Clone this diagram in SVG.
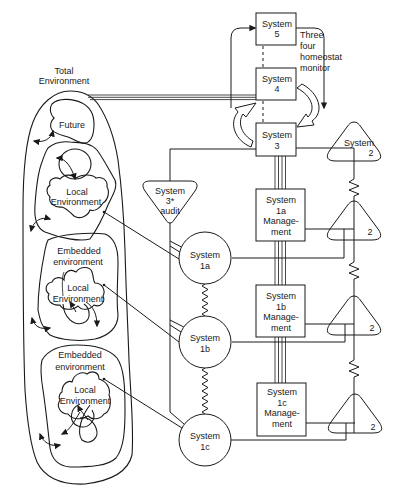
<svg xmlns="http://www.w3.org/2000/svg" width="412" height="488" viewBox="0 0 412 488">
<defs>
<style>
.ln{fill:none;stroke:#1a1a1a;stroke-width:1}
.th{fill:none;stroke:#1a1a1a;stroke-width:0.8}
.sh{fill:#fff;stroke:#1a1a1a;stroke-width:1}
.env{fill:none;stroke:#1a1a1a;stroke-width:1.1}
.dash{fill:none;stroke:#1a1a1a;stroke-width:1;stroke-dasharray:3 3}
text{font-family:"Liberation Sans",Arial,sans-serif;font-size:9px;fill:#1a1a1a;text-anchor:middle}
.lft{text-anchor:start}
.arr{marker-end:url(#ah)}
.arr2{marker-start:url(#ah);marker-end:url(#ah)}
</style>
<marker id="ah" viewBox="0 0 10 10" refX="8" refY="5" markerWidth="7" markerHeight="7" markerUnits="userSpaceOnUse" orient="auto-start-reverse"><path d="M0,0.5 L10,5 L0,9.5 Z" fill="#1a1a1a"/></marker>
<path id="tri" d="M0,0 C3,0 5,2 7,5 L24,28 C29,35 27,39 18,39 L-18,39 C-27,39 -29,35 -24,28 L-7,5 C-5,2 -3,0 0,0 Z"/>
</defs>
<rect width="412" height="488" fill="#fff"/>

<g id="environment">
  <path class="env" d="M70,91 C82,91 92,96 98,104 C106,116 114,135 118,160 C122,190 124,220 125,250 C126,290 128,330 129,360 C131,400 134,430 132,455 C128,472 110,481 85,484 C62,485 45,478 37,462 C30,445 27,420 25,390 C23,340 23,270 23,210 C23,170 26,140 33,122 C40,104 54,91 70,91 Z"/>
  <text x="64" y="74">Total</text>
  <text x="64" y="84">Environment</text>
  <!-- Future -->
  <path class="env" d="M52,104 C58,98 72,98 82,103 C90,107 94,114 94,124 C94,134 92,141 86,143 C80,144 74,139 68,137 C62,135 55,134 52,130 C49,126 51,121 54,118 C50,114 49,108 52,104 Z"/>
  <text x="72" y="128">Future</text>
  <path class="ln arr2" d="M53,131 C51,139 44,143 34,141"/>
  <!-- region A -->
  <path class="env" d="M48,148 C55,142 62,141 70,142 C80,143 90,142 97,150 C103,158 108,168 115,180 C118,188 112,196 108,205 C104,215 98,228 90,239 C80,242 60,238 45,232 C36,228 34,218 35,205 C36,190 38,172 42,162 C44,156 46,151 48,148 Z"/>
  <ellipse class="env" cx="75" cy="164" rx="16" ry="15"/>
  <path class="ln arr2" d="M57,158 C66,158 72,168 75,179"/>
  <path class="env" d="M50,185 C48,180 55,176 60,179 C64,174 72,174 76,178 C82,174 92,174 96,178 C102,176 108,180 107,187 C110,192 108,200 103,203 C100,208 95,212 90,210 C88,216 80,220 74,216 C70,212 66,208 62,207 C55,208 48,203 50,197 C46,193 46,188 50,185 Z"/>
  <text x="77" y="195">Local</text>
  <text x="76" y="205">Environment</text>
  <path class="ln arr2" d="M31,231 C33,222 40,216 50,219"/>
  <circle cx="104" cy="212" r="1.3" fill="#1a1a1a"/>
  <!-- region B -->
  <path class="env" d="M48,240 C60,234 90,232 105,234 C115,238 118,250 118,262 C118,280 116,300 118,315 C118,328 108,336 95,339 C80,342 60,340 50,335 C42,328 40,320 38,310 C38,290 42,265 45,250 C46,245 47,242 48,240 Z"/>
  <text x="79" y="254">Embedded</text>
  <text x="78" y="265">environment</text>
  <path class="env" d="M52,282 C55,276 62,277 64,280 C64,272 70,268 76,272 C80,266 90,266 92,272 C94,278 93,281 95,283 C102,283 106,290 103,296 C106,302 100,308 94,305 C90,310 82,311 78,306 C72,311 62,310 60,305 C52,306 46,300 49,294 C44,290 46,283 52,282 Z"/>
  <path class="th" d="M63,296 C62,286 62,276 64,272"/>
  <text x="78" y="291">Local</text>
  <text x="78" y="302">Environment</text>
  <path class="env" d="M63,304 C64,318 74,326 83,323 C92,320 90,308 84,304"/>
  <path class="ln arr" d="M86,302 C94,307 97,315 97,326"/>
  <path class="ln arr" d="M76,312 C74,308 72,305 70,302"/>
  <path class="ln arr2" d="M32,318 C34,326 40,330 50,328"/>
  <circle cx="104" cy="285" r="1.3" fill="#1a1a1a"/>
  <!-- region C -->
  <path class="env" d="M42,360 C48,350 60,345 77,345 C92,345 108,348 117,358 C124,368 125,385 125,410 C125,430 124,448 116,458 C108,466 90,467 70,467 C58,466 52,460 50,448 C48,430 46,410 43,390 C41,378 40,368 42,360 Z"/>
  <text x="80" y="358">Embedded</text>
  <text x="80" y="370">environment</text>
  <path class="env" d="M62,392 C62,384 68,380 72,382 C74,374 82,371 87,374 C92,370 99,372 99,379 C106,381 111,388 109,395 C112,402 110,412 104,414 C100,420 92,420 88,416 C82,420 72,420 68,414 C60,414 56,406 60,400 C58,397 60,393 62,392 Z"/>
  <text x="85" y="393">Local</text>
  <text x="85" y="404">Environment</text>
  <path class="env" d="M80,404 C70,408 68,422 78,426 C88,430 98,420 92,410"/>
  <path class="env" d="M90,405 C82,415 76,432 82,440 C90,446 100,438 96,428 C93,420 86,416 80,418"/>
  <path class="ln arr" d="M80,412 C74,422 70,430 62,434"/>
  <path class="ln arr" d="M88,420 C84,414 80,410 78,406"/>
  <path class="ln arr2" d="M40,434 C43,442 50,447 60,445"/>
  <circle cx="104" cy="379" r="1.3" fill="#1a1a1a"/>
</g>

<g id="connectors">
  <!-- total environment to System 4 -->
  <path class="th" d="M88,95 H256 M88,97.3 H256 M90,99.6 H256"/>
  <!-- 5 / 4 / 3 dashed -->
  <path class="dash" d="M263,46 V68 M263,101 V123"/>
  <!-- 3-4 homeostat loop arrows -->
  <path class="ln arr" d="M231,108 V38 Q231,28 241,28 H255"/>
  <path class="ln arr" d="M296,28 H314 Q324,28 324,38 V108"/>
  <!-- System 3 to 3* and to System 2 -->
  <path class="ln" d="M256,149 H170 V181"/>
  <path class="ln" d="M170,222 V412 L184,424"/>
  <path class="ln" d="M296,148 H354"/>
  <!-- System 2 vertical with zigzags -->
  <path class="ln" d="M354,148 V179 L349,182 L359,186 L349,190 L359,194 L354,196 V262 L349,265 L359,269 L349,273 L359,277 L354,279 V360 L349,363 L359,367 L349,371 L359,375 L354,377 V433"/>
  <!-- management bundles -->
  <path class="th" d="M275,156 V189 M278.5,156 V189 M282,156 V189 M285.5,156 V189"/>
  <path class="th" d="M275,241 V285 M278.5,241 V285 M282,241 V285 M285.5,241 V285"/>
  <path class="th" d="M275,337 V383 M278.5,337 V383 M282,337 V383 M285.5,337 V383"/>
  <!-- management / operations to System 2 -->
  <path class="ln" d="M305,229 H354 M232,258 H344 V229"/>
  <path class="ln" d="M305,324 H354 M232,342 H345 V324"/>
  <path class="ln" d="M306,423 H355 M231,440 H346 V423"/>
  <!-- environment to operations -->
  <path class="ln" d="M104,212 L179,259"/>
  <path class="ln" d="M104,285 L179,342"/>
  <path class="ln" d="M104,379 L182,428"/>
  <!-- audit channel pairs -->
  <path class="ln" d="M170,241 L181.4,247 M170,246 L179.7,252"/>
  <path class="ln" d="M170,320 L183.8,327 M170,325 L181,332"/>
  <!-- operations zigzags -->
  <path class="ln" d="M205,284 L202,286 L208,289.5 L202,293 L208,296.5 L202,300 L208,303.5 L202,307 L208,310.5 L202,314 L205,316"/>
  <path class="ln" d="M205,368 L202,370 L208,373.5 L202,377 L208,380.5 L202,384 L208,387.5 L202,391 L208,394.5 L202,398 L208,401.5 L202,405 L208,408.5 L202,412 L205,414"/>
</g>

<g id="homeostat-arrows">
  <path class="sh" d="M251,147 C236,141 228,124 238,112 L235,108 L256,103 L246,117 L243,114 C237,123 242,135 253,141 Z"/>
  <path class="sh" d="M297,88 L302,84 C319,93 325,112 312,121 L314,125 L297,127 L306,114 L308,117 C316,109 312,96 297,88 Z"/>
</g>

<g id="system5"><rect class="sh" x="256" y="13" width="40" height="32"/><text x="277" y="27">System</text><text x="277" y="37">5</text></g>
<g id="monitor-label"><text class="lft" x="300" y="38">Three</text><text class="lft" x="300" y="49">four</text><text class="lft" x="300" y="60">homeostat</text><text class="lft" x="300" y="71">monitor</text></g>
<g id="system4"><rect class="sh" x="256" y="68" width="40" height="32"/><text x="277" y="82">System</text><text x="277" y="92">4</text></g>
<g id="system3"><rect class="sh" x="256" y="123" width="40" height="33"/><text x="277" y="138">System</text><text x="277" y="149">3</text></g>

<g id="system3star"><path class="sh" d="M150,181 L190,181 C197,181 199,185 195,191 L174,220 C172,224 168,224 166,220 L145,191 C141,185 143,181 150,181 Z"/><text x="170" y="194">System</text><text x="170" y="204">3*</text><text x="170" y="214">audit</text></g>

<g id="system2-top"><use href="#tri" class="ln" transform="translate(354,122)"/><text x="359" y="146">System</text><text x="371" y="156">2</text></g>
<g id="system2-1a"><use href="#tri" class="ln" transform="translate(354,201)"/><text x="370" y="235">2</text></g>
<g id="system2-1b"><use href="#tri" class="ln" transform="translate(354,296)"/><text x="372" y="331">2</text></g>
<g id="system2-1c"><use href="#tri" class="ln" transform="translate(355,394)"/><text x="373" y="430">2</text></g>

<g id="mgmt1a"><rect class="sh" x="256" y="189" width="49" height="52"/><text x="281" y="203">System</text><text x="281" y="214">1a</text><text x="281" y="224">Manage-</text><text x="281" y="235">ment</text></g>
<g id="mgmt1b"><rect class="sh" x="256" y="285" width="49" height="52"/><text x="281" y="299">System</text><text x="281" y="310">1b</text><text x="281" y="320">Manage-</text><text x="281" y="331">ment</text></g>
<g id="mgmt1c"><rect class="sh" x="257" y="383" width="49" height="53"/><text x="282" y="395">System</text><text x="282" y="406">1c</text><text x="282" y="416">Manage-</text><text x="282" y="427">ment</text></g>

<g id="op1a"><circle class="sh" cx="205" cy="258" r="26"/><text x="205" y="258">System</text><text x="205" y="269">1a</text></g>
<g id="op1b"><circle class="sh" cx="205" cy="342" r="26"/><text x="205" y="341">System</text><text x="205" y="352">1b</text></g>
<g id="op1c"><circle class="sh" cx="205" cy="440" r="26"/><text x="205" y="439">System</text><text x="205" y="450">1c</text></g>
</svg>
